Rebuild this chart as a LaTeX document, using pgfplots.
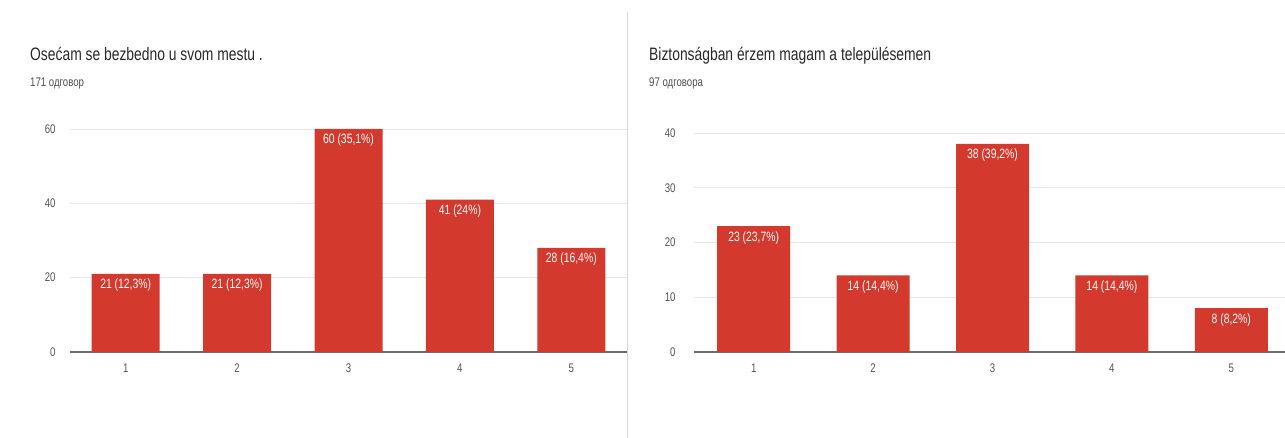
\documentclass[border=0pt]{standalone}
\usepackage{fontspec}
\setmainfont[FakeStretch=0.77]{Liberation Sans}
\usepackage{pgfplots}
\pgfplotsset{compat=1.18}
\definecolor{barred}{RGB}{212,57,45}
\definecolor{gridc}{RGB}{232,232,232}
\definecolor{axc}{RGB}{110,110,110}
\definecolor{tickc}{RGB}{85,85,85}
\definecolor{titc}{RGB}{40,40,40}
\definecolor{subc}{RGB}{80,80,80}
\definecolor{divc}{RGB}{215,215,215}
\pgfplotsset{
  formsbar/.style={
    scale only axis,
    ybar,
    ymin=0,
    xmin=0.5,
    xtick={1,2,3,4,5},
    axis x line*=bottom,
    axis y line*=left,
    y axis line style={draw=none},
    x axis line style={draw=axc, line width=1.2bp, -},
    major tick length=0pt,
    tick style={draw=none},
    ymajorgrids,
    grid style={gridc, line width=0.9bp},
    /pgf/number format/assume math mode=true,
    ticklabel style={text=tickc, font=\fontsize{12.5bp}{14bp}\selectfont},
    xticklabel style={yshift=-8bp},
    clip=false,
  },
  barlab/.style={
    fill=barred, draw=none,
    nodes near coords, point meta=explicit symbolic,
    every node near coord/.append style={anchor=north, inner sep=0pt, yshift=-5bp, text=white, font=\fontsize{13.5bp}{15bp}\selectfont},
  }
}
\begin{document}
\begin{tikzpicture}[x=1bp,y=1bp]
\useasboundingbox (0,0) rectangle (1285,438);
\fill[white] (0,0) rectangle (1285,438);
\draw[divc, line width=1bp] (627,0) -- (627,426);

\node[anchor=base west, inner sep=0, text=titc, font=\fontsize{18bp}{20bp}\selectfont] at (30,377) {Osećam se bezbedno u svom mestu .};
\node[anchor=base west, inner sep=0, text=subc, font=\fontsize{12.5bp}{14bp}\selectfont] at (30,351) {171 одговор};
\node[anchor=base west, inner sep=0, text=titc, font=\fontsize{18bp}{20bp}\selectfont] at (649,377) {Biztonságban érzem magam a településemen};
\node[anchor=base west, inner sep=0, text=subc, font=\fontsize{12.5bp}{14bp}\selectfont] at (649,351) {97 одговора};

\begin{axis}[formsbar,
  at={(70bp,86bp)}, anchor=south west,
  width=557bp, height=223bp,
  xmax=5.5, ymax=60, ytick={0,20,40,60},
  bar width=68bp,
  yticklabel style={xshift=-11bp},
]
\addplot[barlab]
  coordinates {(1,21) [21 (12,3\%)] (2,21) [21 (12,3\%)] (3,60) [60 (35,1\%)] (4,41) [41 (24\%)] (5,28) [28 (16,4\%)]};
\end{axis}

\begin{axis}[formsbar,
  at={(694bp,86bp)}, anchor=south west,
  width=591bp, height=219bp,
  xmax=5.45, ymax=40, ytick={0,10,20,30,40},
  bar width=73bp,
  yticklabel style={xshift=-15bp},
]
\addplot[barlab]
  coordinates {(1,23) [23 (23,7\%)] (2,14) [14 (14,4\%)] (3,38) [38 (39,2\%)] (4,14) [14 (14,4\%)] (5,8) [8 (8,2\%)]};
\end{axis}
\end{tikzpicture}
\end{document}
